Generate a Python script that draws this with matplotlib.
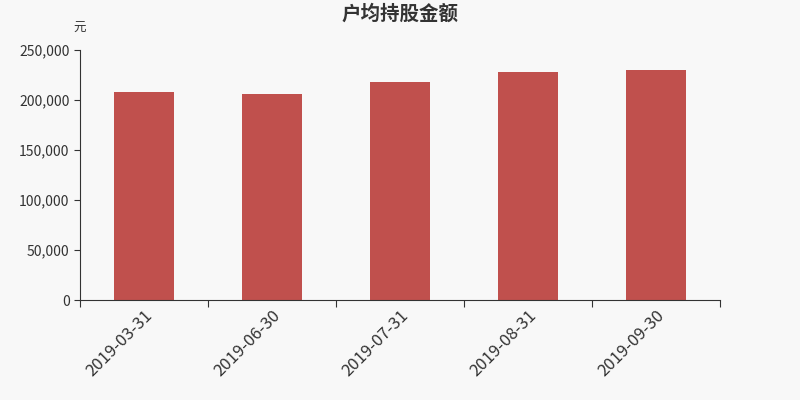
import matplotlib
matplotlib.use("Agg")
import matplotlib.pyplot as plt
import numpy as np
from matplotlib.ticker import FuncFormatter

plt.rcParams['font.family'] = ['Noto Sans CJK SC', 'DejaVu Sans']

categories = ["2019-03-31", "2019-06-30", "2019-07-31", "2019-08-31", "2019-09-30"]
values = [208000, 206000, 218500, 228000, 230000]
title = "户均持股金额"
unit = "元"

bg = "#f8f8f8"
fig = plt.figure(figsize=(8, 4), dpi=100, facecolor=bg)
ax = fig.add_axes([0.1, 0.25, 0.8, 0.625], facecolor=bg)

x = np.arange(len(categories))
ax.bar(x, values, width=0.47, color="#c0504d", zorder=2)
ax.set_xlim(-0.5, len(categories) - 0.5)
ax.set_ylim(0, 250000)
ax.set_yticks(np.arange(0, 250001, 50000))
ax.yaxis.set_major_formatter(FuncFormatter(lambda v, p: f"{int(v):,}"))

ax.set_xticks(np.arange(-0.5, len(categories), 1.0))
ax.set_xticklabels([])
ax.set_xticks(x, minor=True)
ax.set_xticklabels(categories, minor=True, rotation=45, ha='right',
                   rotation_mode='anchor', fontsize=12, color="#333333")
ax.tick_params(axis='x', which='minor', length=0, pad=5)
ax.tick_params(axis='x', which='major', length=5, color="#333333")
ax.tick_params(axis='y', length=4, color="#333333", labelsize=10, labelcolor="#333333")

for s in ['top', 'right']:
    ax.spines[s].set_visible(False)
for s in ['left', 'bottom']:
    ax.spines[s].set_color("#333333")

fig.text(0.5, 0.965, title, ha='center', va='center', fontsize=14,
         fontweight='bold', color="#333333")
fig.text(0.1, 0.928, unit, ha='center', va='center', fontsize=9, color="#333333")

fig.savefig("out.png", dpi=100, facecolor=bg)
